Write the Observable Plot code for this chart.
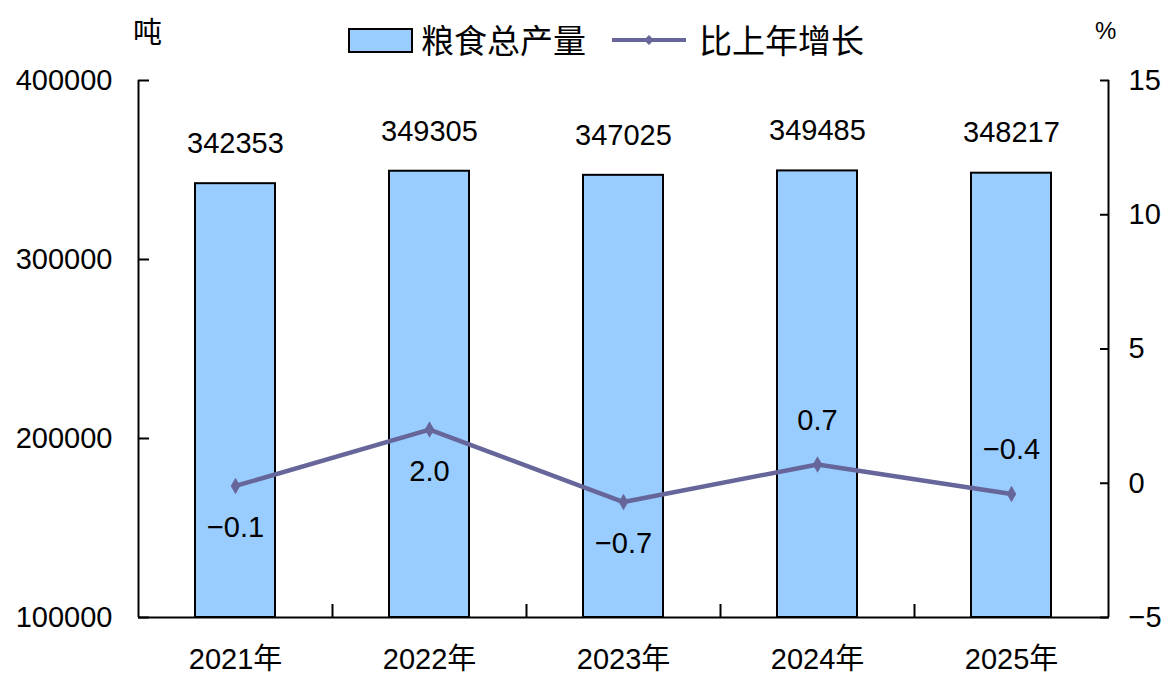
<!DOCTYPE html>
<html>
<head>
<meta charset="utf-8">
<script src="https://cdn.jsdelivr.net/npm/d3@7"></script>
<script src="https://cdn.jsdelivr.net/npm/@observablehq/plot@0.6"></script>
<style>
  html, body { margin: 0; padding: 0; background: #fff; }
  #wrap { position: relative; width: 1175px; height: 681px; overflow: hidden; font-family: "Liberation Sans", Arial, "Noto Sans CJK SC", sans-serif; }
  #head { position: relative; height: 70px; }
  .abs { position: absolute; white-space: nowrap; color: #000; }
  .cjk { font-family: "Noto Sans CJK SC", sans-serif; }
</style>
</head>
<body>
<div id="wrap">
  <div id="head">
    <div class="abs cjk" style="left:133px; top:12px; font-size:29px; line-height:36px;">吨</div>
    <div class="abs" style="left:1095px; top:16px; font-size:24px; line-height:30px;">%</div>
    <div class="abs" style="left:348px; top:28px; width:61px; height:21px; background:#99ccff; border:2px solid #000;"></div>
    <div class="abs cjk" style="left:421px; top:18px; font-size:33px; line-height:42px;">粮食总产量</div>
    <svg class="abs" style="left:610px; top:30px;" width="78" height="20">
      <line x1="2" y1="10" x2="76" y2="10" stroke="#66669a" stroke-width="4"/>
      <path d="M39,5 L44,10 L39,15 L34,10 Z" fill="#66669a"/>
    </svg>
    <div class="abs cjk" style="left:699px; top:18px; font-size:33px; line-height:42px;">比上年增长</div>
  </div>
  <div id="chart"></div>
</div>
<script>
const years = ["2021年", "2022年", "2023年", "2024年", "2025年"];
const output = [342353, 349305, 347025, 349485, 348217];
const growth = [-0.1, 2.0, -0.7, 0.7, -0.4];
const growthText = ["−0.1", "2.0", "−0.7", "0.7", "−0.4"];
const growthSide = ["below", "below", "below", "above", "above"];
const leftTicks = [100000, 200000, 300000, 400000];
const rightTicks = [-5, 0, 5, 10, 15];

const yMin = 100000, yMax = 400000, pMin = -5, pMax = 15;
const toLeft = p => yMin + (p - pMin) * (yMax - yMin) / (pMax - pMin);
const fromLeft = v => pMin + (v - yMin) * (pMax - pMin) / (yMax - yMin);
const fmtSigned = n => (n < 0 ? "−" + Math.abs(n) : String(n));

const data = years.map((year, i) => ({
  year, output: output[i], growth: growth[i], gText: growthText[i], side: growthSide[i]
}));

const W = 1175, H = 611, mT = 10, mB = 64, mL = 138, mR = 67;
const step = (W - mL - mR) / years.length;
const innerH = H - mT - mB;
const tickLen = 13 * (yMax - yMin) / innerH;
const lineColor = "#66669a";

const chart = Plot.plot({
  width: W, height: H,
  marginTop: mT, marginBottom: mB, marginLeft: mL, marginRight: mR,
  style: { fontFamily: "'Liberation Sans', Arial, 'Noto Sans CJK SC', sans-serif", fontSize: "29px", color: "#000", background: "#fff", overflow: "visible" },
  x: { domain: years, paddingInner: 0.59, paddingOuter: 0.295, label: null },
  y: { domain: [yMin, yMax], label: null },
  marks: [
    Plot.barY(data, { x: "year", y1: yMin, y2: "output", fill: "#99ccff", stroke: "#000", strokeWidth: 2 }),
    Plot.text(data, { x: "year", y: "output", text: d => String(d.output), dy: -40, fontSize: 29, fill: "#000" }),
    Plot.line(data, { x: "year", y: d => toLeft(d.growth), stroke: lineColor, strokeWidth: 4.5 }),
    Plot.dot(data, { x: "year", y: d => toLeft(d.growth), symbol: "diamond", r: 5, fill: lineColor }),
    Plot.text(data.filter(d => d.side === "below"), { x: "year", y: d => toLeft(d.growth), text: "gText", dy: 42, fontSize: 29, fill: "#000" }),
    Plot.text(data.filter(d => d.side === "above"), { x: "year", y: d => toLeft(d.growth), text: "gText", dy: -44, fontSize: 29, fill: "#000" }),
    Plot.ruleX(years.slice(0, years.length - 1), { x: d => d, dx: step / 2, y1: yMin, y2: yMin + tickLen, stroke: "#000", strokeWidth: 2 }),
    Plot.ruleX(years.slice(0, 1), { x: d => d, dx: -step / 2, y1: yMin, y2: yMax, stroke: "#000", strokeWidth: 2 }),
    Plot.ruleX(years.slice(-1), { x: d => d, dx: step / 2, y1: yMin, y2: yMax, stroke: "#000", strokeWidth: 2 }),
    Plot.ruleY([yMin], { stroke: "#000", strokeWidth: 2 }),
    Plot.axisY(leftTicks, { anchor: "left", tickSize: -11, tickPadding: 37, tickFormat: d => String(d), strokeWidth: 2, label: null, fontSize: 29 }),
    Plot.axisY(rightTicks.map(toLeft), { anchor: "right", tickSize: -9, tickPadding: 29, tickFormat: v => fmtSigned(Math.round(fromLeft(v))), strokeWidth: 2, label: null, fontSize: 29 }),
    Plot.axisX({ tickSize: 0, tickPadding: 31, label: null, fontSize: 29, lineAnchor: "top" })
  ]
});
document.getElementById("chart").appendChild(chart);
</script>
</body>
</html>
